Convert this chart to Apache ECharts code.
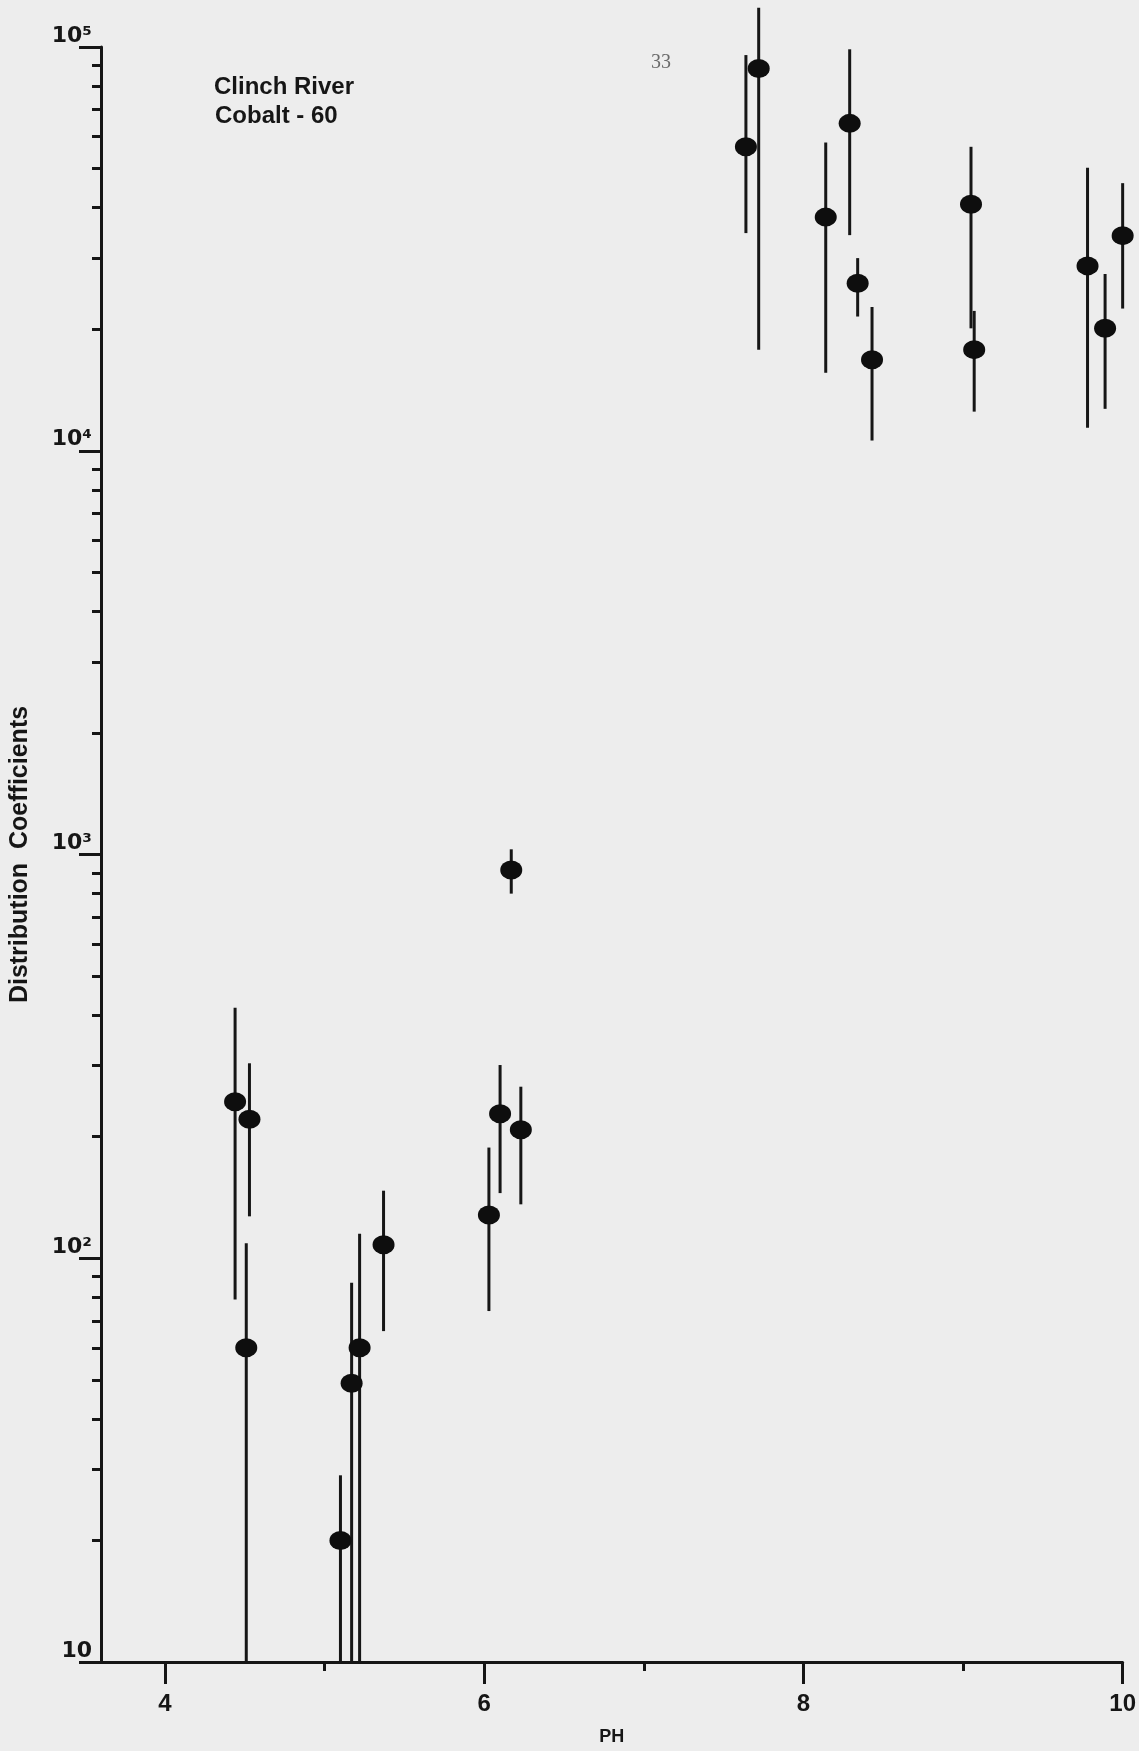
<!DOCTYPE html>
<html>
<head>
<meta charset="utf-8">
<script src="https://cdn.jsdelivr.net/npm/echarts@6/dist/echarts.min.js"></script>
<style>
html,body{margin:0;padding:0;background:#ededed;}
#c{width:1139px;height:1751px;}
</style>
</head>
<body>
<div id="c"></div>
<script>
// ---- data ----
const pH     = [4.44, 4.53, 4.51, 5.10, 5.17, 5.22, 5.37, 6.03, 6.10, 6.23, 6.17, 7.64, 7.72, 8.14, 8.29, 8.34, 8.43, 9.05, 9.07, 9.78, 9.89, 10.0];
const kd     = [244, 221, 60, 20, 49, 60, 108, 128, 228, 208, 915, 56600, 88500, 37900, 64700, 26000, 16800, 40800, 17800, 28700, 20100, 34100];
const kdHigh = [417, 304, 109, 29, 87, 115, 147, 188, 301, 266, 1030, 95500, 125000, 58000, 98700, 30000, 22700, 56600, 22200, 50200, 27400, 46000];
const kdLow  = [79, 127, 10, 10, 10, 10, 66, 74, 145, 136, 800, 34600, 17800, 15600, 34200, 21500, 10600, 20100, 12500, 11400, 12700, 22500];
const xTickLabels = [4, 6, 8, 10];
const xMinorTicks = [5, 7, 9];
const yDecades = [10, 100, 1000, 10000, 100000];
const yMinorMultipliers = [2, 3, 4, 5, 6, 7, 8, 9];
const noteLines = ['Clinch River', 'Cobalt - 60'];
const pageNumber = '33';
const xName = 'PH';
const yName = 'Distribution  Coefficients';

const INK = '#161616';
const chart = echarts.init(document.getElementById('c'), null, {renderer: 'canvas'});

const minorLog = [];
for (let d = 1; d < yDecades.length; d++) {
  for (const m of yMinorMultipliers) minorLog.push(Math.log10(yDecades[d - 1] * m));
}
const sup = {1: '', 2: '\u00B2', 3: '\u00B3', 4: '\u2074', 5: '\u2075'};

const option = {
  backgroundColor: '#ededed',
  animation: false,
  grid: {left: 99, right: 14, top: 47, bottom: 89},
  xAxis: [
    {
      type: 'value', min: 3.6, max: 10, position: 'bottom',
      axisLine: {show: true, lineStyle: {color: INK, width: 3}},
      axisTick: {show: true, customValues: xTickLabels, length: 22, lineStyle: {color: INK, width: 3}},
      axisLabel: {customValues: xTickLabels, fontSize: 24, fontWeight: 'bold', color: INK, margin: 30, fontFamily: 'Liberation Sans'},
      splitLine: {show: false},
      name: xName, nameLocation: 'middle', nameGap: 66,
      nameTextStyle: {fontSize: 18, fontWeight: 'bold', color: INK, fontFamily: 'Liberation Sans'}
    },
    {
      type: 'value', min: 3.6, max: 10, position: 'bottom', offset: 0,
      axisLine: {show: false},
      axisTick: {show: true, customValues: xMinorTicks, length: 9, lineStyle: {color: INK, width: 3}},
      axisLabel: {show: false},
      splitLine: {show: false}
    }
  ],
  yAxis: [
    {
      type: 'log', logBase: 10, min: yDecades[0], max: yDecades[yDecades.length - 1], position: 'left',
      axisLine: {show: true, lineStyle: {color: INK, width: 3}},
      axisTick: {show: true, length: 22, lineStyle: {color: INK, width: 3}},
      axisLabel: {
        formatter: v => '10' + sup[Math.round(Math.log10(v))],
        fontSize: 22, fontWeight: 'bold', color: INK, fontFamily: 'DejaVu Sans', margin: 9, verticalAlign: 'bottom'
      },
      splitLine: {show: false}, minorTick: {show: false}, minorSplitLine: {show: false},
      name: yName, nameLocation: 'middle', nameGap: 68, nameRotate: 90,
      nameTextStyle: {fontSize: 25, fontWeight: 'bold', color: INK, fontFamily: 'Liberation Sans'}
    },
    {
      type: 'value', min: 1, max: 5, position: 'left', offset: 0,
      axisLine: {show: false},
      axisTick: {show: true, customValues: minorLog, length: 9, lineStyle: {color: INK, width: 3}},
      axisLabel: {show: false},
      splitLine: {show: false}
    }
  ],
  series: [
    {
      type: 'custom', xAxisIndex: 0, yAxisIndex: 0, clip: false, z: 2,
      data: pH.map((x, i) => [x, kdLow[i], kdHigh[i]]),
      encode: {x: 0, y: [1, 2]},
      renderItem: (params, api) => {
        const x = api.value(0);
        const p1 = api.coord([x, api.value(1)]);
        const p2 = api.coord([x, api.value(2)]);
        return {
          type: 'line',
          shape: {x1: p1[0], y1: p1[1], x2: p2[0], y2: p2[1]},
          style: {stroke: INK, lineWidth: 3}
        };
      }
    },
    {
      type: 'scatter', xAxisIndex: 0, yAxisIndex: 0, clip: false, z: 3,
      data: pH.map((x, i) => [x, kd[i]]),
      symbol: 'circle', symbolSize: [22, 19],
      itemStyle: {color: '#0e0e0e', opacity: 1}
    }
  ],
  graphic: [
    {type: 'text', left: 214, top: 75, style: {text: noteLines[0], fontSize: 24, fontWeight: 'bold', fill: INK, fontFamily: 'Liberation Sans'}},
    {type: 'text', left: 215, top: 104, style: {text: noteLines[1], fontSize: 24, fontWeight: 'bold', fill: INK, fontFamily: 'Liberation Sans'}},
    {type: 'text', left: 651, top: 53, style: {text: pageNumber, fontSize: 20, fill: '#6a6a6a', fontFamily: 'Liberation Serif'}}
  ]
};
chart.setOption(option);
</script>
</body>
</html>
